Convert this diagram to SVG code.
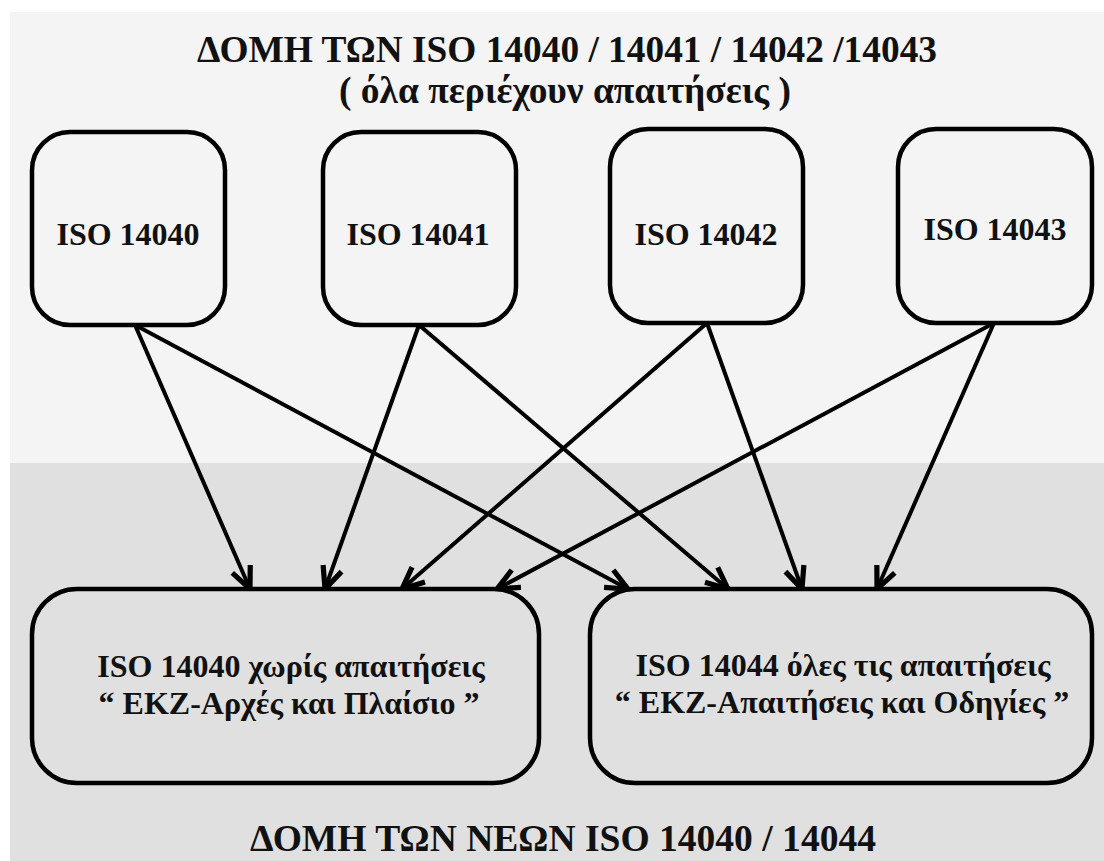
<svg xmlns="http://www.w3.org/2000/svg" width="1104" height="861" viewBox="0 0 1104 861">
<defs>
<style>
.t{font-family:'Liberation Serif','Tinos','Noto Serif','DejaVu Serif','FreeSerif','Nimbus Roman','Times New Roman',Times,serif;font-weight:700;fill:#111;text-anchor:middle}
.title{font-size:38px}
.lbl{font-size:32px}
.box{stroke:#000;stroke-width:4.5}
.top{fill:#f4f4f4}
.bot{fill:#e0e0e0}
.c{stroke:#000;stroke-width:4;fill:none}
</style>
<marker id="arr" markerUnits="userSpaceOnUse" markerWidth="30" markerHeight="30" viewBox="-22 -12 26 24" refX="0" refY="0" orient="auto">
<path d="M-19,-8.5 L0,0 L-19,8.5" fill="none" stroke="#000" stroke-width="4.5" stroke-linejoin="miter"/>
</marker>
</defs>
<rect x="0" y="0" width="1104" height="861" fill="#ffffff"/>
<rect x="10" y="12" width="1094" height="451" fill="#f4f4f4"/>
<rect x="10" y="463" width="1094" height="398" fill="#e0e0e0"/>
<g id="titles">
<text class="t title" x="567" y="62" textLength="740" lengthAdjust="spacingAndGlyphs">ΔΟΜΗ ΤΩΝ ISO 14040 / 14041 / 14042 /14043</text>
<text class="t title" x="565" y="103" textLength="452" lengthAdjust="spacingAndGlyphs">( όλα περιέχουν απαιτήσεις )</text>
<text class="t title" x="563" y="851" textLength="626" lengthAdjust="spacingAndGlyphs">ΔΟΜΗ ΤΩΝ ΝΕΩΝ ISO 14040 / 14044</text>
</g>
<g id="connectors">
<line class="c" x1="135" y1="325" x2="250" y2="589" marker-end="url(#arr)"/>
<line class="c" x1="135" y1="325" x2="628" y2="589" marker-end="url(#arr)"/>
<line class="c" x1="419" y1="325" x2="325" y2="589" marker-end="url(#arr)"/>
<line class="c" x1="419" y1="325" x2="728" y2="589" marker-end="url(#arr)"/>
<line class="c" x1="707" y1="323" x2="402" y2="589" marker-end="url(#arr)"/>
<line class="c" x1="707" y1="323" x2="802" y2="589" marker-end="url(#arr)"/>
<line class="c" x1="994" y1="323" x2="497" y2="589" marker-end="url(#arr)"/>
<line class="c" x1="994" y1="323" x2="877" y2="589" marker-end="url(#arr)"/>
</g>
<g id="iso14040">
<rect class="box top" x="32" y="132" width="193" height="193" rx="38" ry="38"/>
<text class="t lbl" x="128" y="245">ISO 14040</text>
</g>
<g id="iso14041">
<rect class="box top" x="323" y="132" width="193" height="193" rx="38" ry="38"/>
<text class="t lbl" x="418" y="245">ISO 14041</text>
</g>
<g id="iso14042">
<rect class="box top" x="610" y="129" width="193" height="194" rx="38" ry="38"/>
<text class="t lbl" x="706" y="245">ISO 14042</text>
</g>
<g id="iso14043">
<rect class="box top" x="898" y="129" width="194" height="194" rx="38" ry="38"/>
<text class="t lbl" x="995" y="240">ISO 14043</text>
</g>
<g id="new14040">
<rect class="box bot" x="32" y="589" width="507" height="194" rx="45" ry="45"/>
<text class="t lbl" x="291" y="677">ISO 14040 χωρίς απαιτήσεις</text>
<text class="t lbl" x="289" y="714">“ ΕΚΖ-Αρχές και Πλαίσιο ”</text>
</g>
<g id="new14044">
<rect class="box bot" x="590" y="589" width="502" height="194" rx="45" ry="45"/>
<text class="t lbl" x="843" y="676">ISO 14044 όλες τις απαιτήσεις</text>
<text class="t lbl" x="842" y="713">“ ΕΚΖ-Απαιτήσεις και Οδηγίες ”</text>
</g>
</svg>
